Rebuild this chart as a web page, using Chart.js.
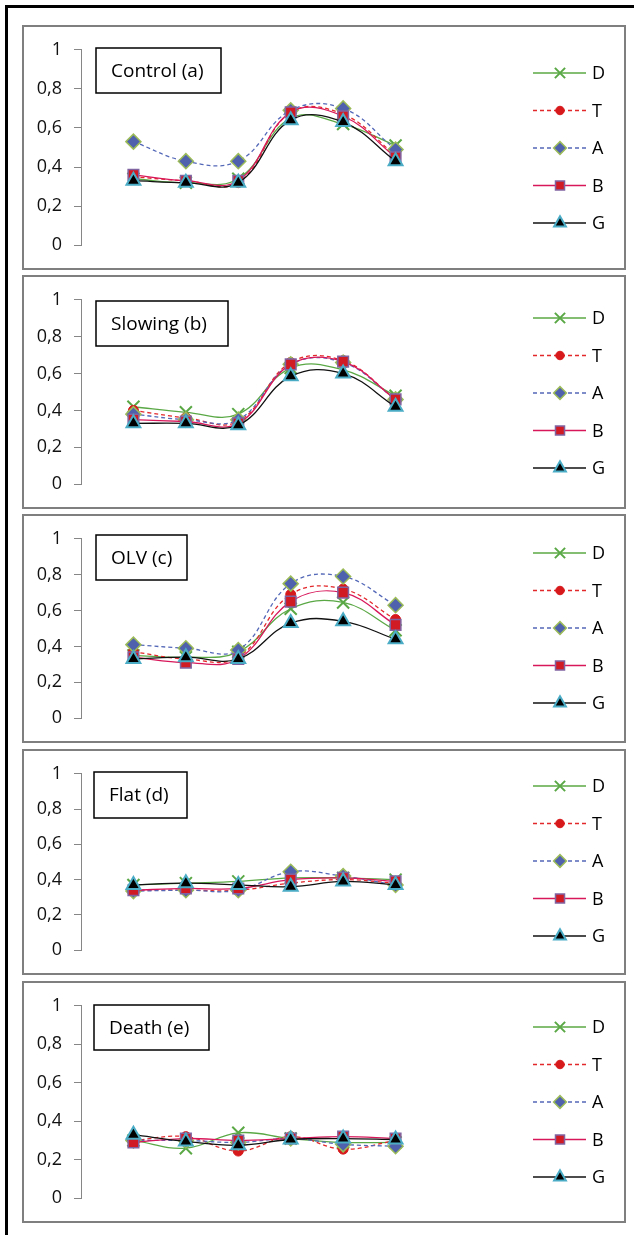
<!DOCTYPE html>
<html>
<head>
<meta charset="utf-8">
<script src="https://cdn.jsdelivr.net/npm/chart.js@4.4.1/dist/chart.umd.min.js"></script>
<style>
  html, body { margin: 0; padding: 0; background: #fff; }
  body { width: 634px; height: 1235px; position: relative; overflow: hidden; }
  .frame { position: absolute; left: 5px; top: 5px; width: 700px; height: 1300px;
           border-left: 3px solid #000; border-top: 3px solid #000; }
  .panel { position: absolute; left: 22px; width: 600px; border: 2px solid #7f7f7f; background: #fff; }
  .panel canvas { display: block; }
</style>
</head>
<body>
<div class="frame"></div>
<div id="panels"></div>
<script>
// datos
const categories = [1, 2, 3, 4, 5, 6];
const seriesNames = ['D', 'T', 'A', 'B', 'G'];
const yTickLabels = ['0', '0,2', '0,4', '0,6', '0,8', '1'];
const panelTitles = ['Control (a)', 'Slowing (b)', 'OLV (c)', 'Flat (d)', 'Death (e)'];

// orden de series: D, T, A, B, G
const controlValues = [
  [0.34, 0.32, 0.34, 0.65, 0.62, 0.51],
  [0.35, 0.33, 0.32, 0.68, 0.67, 0.46],
  [0.53, 0.43, 0.43, 0.69, 0.70, 0.49],
  [0.36, 0.33, 0.33, 0.68, 0.66, 0.45],
  [0.33, 0.32, 0.32, 0.64, 0.63, 0.43]
];
const slowingValues = [
  [0.42, 0.39, 0.38, 0.63, 0.62, 0.48],
  [0.40, 0.36, 0.34, 0.66, 0.67, 0.46],
  [0.38, 0.35, 0.35, 0.65, 0.66, 0.46],
  [0.35, 0.34, 0.33, 0.65, 0.665, 0.46],
  [0.33, 0.33, 0.32, 0.585, 0.60, 0.42]
];
const olvValues = [
  [0.35, 0.34, 0.37, 0.61, 0.645, 0.49],
  [0.37, 0.33, 0.34, 0.69, 0.72, 0.55],
  [0.41, 0.39, 0.38, 0.75, 0.79, 0.63],
  [0.34, 0.31, 0.33, 0.65, 0.70, 0.52],
  [0.33, 0.34, 0.33, 0.53, 0.54, 0.44]
];
const flatValues = [
  [0.37, 0.38, 0.39, 0.41, 0.41, 0.40],
  [0.34, 0.34, 0.34, 0.38, 0.40, 0.38],
  [0.335, 0.34, 0.34, 0.445, 0.42, 0.37],
  [0.34, 0.35, 0.35, 0.40, 0.41, 0.39],
  [0.37, 0.38, 0.37, 0.36, 0.39, 0.37]
];
const deathValues = [
  [0.30, 0.26, 0.34, 0.31, 0.29, 0.29],
  [0.30, 0.32, 0.245, 0.32, 0.255, 0.30],
  [0.30, 0.30, 0.29, 0.31, 0.28, 0.27],
  [0.29, 0.31, 0.30, 0.31, 0.32, 0.31],
  [0.33, 0.295, 0.275, 0.305, 0.31, 0.305]
];
const allValues = [controlValues, slowingValues, olvValues, flatValues, deathValues];

// estilos de cada serie (estilo Excel)
const seriesStyles = [
  { line: '#5aa845', dash: [], pointStyle: 'crossRot', radius: 8.5, fill: '#5aa845', stroke: '#5aa845', bw: 2 },
  { line: '#e3282b', dash: [4, 3], pointStyle: 'circle', radius: 5, fill: '#d7191c', stroke: '#d7191c', bw: 1 },
  { line: '#5468b8', dash: [4, 3], pointStyle: 'rectRot', radius: 7.5, fill: '#4f61ad', stroke: '#9bbb59', bw: 1.5 },
  { line: '#d8175a', dash: [], pointStyle: 'rect', radius: 7.5, fill: '#d01a24', stroke: '#8064a2', bw: 1.5 },
  { line: '#111111', dash: [], pointStyle: 'triangle', radius: 8, fill: '#000000', stroke: '#4bacc6', bw: 2 }
];

// posiciones de cada panel
const panelLayout = [
  { top: 25, height: 241, padTop: 21, padBottom: 20, legendY: 46, box: [72, 21, 125, 45] },
  { top: 275, height: 230, padTop: 22, padBottom: 20, legendY: 41, box: [72, 24, 132, 45] },
  { top: 514, height: 225, padTop: 22, padBottom: 19, legendY: 37, box: [72, 19, 91, 45] },
  { top: 749, height: 222, padTop: 21, padBottom: 21, legendY: 35, box: [70, 21, 93, 46] },
  { top: 981, height: 238, padTop: 21, padBottom: 19, legendY: 44, box: [70, 22, 115, 45] }
];

const FONT = '"Open Sans", "Liberation Sans", sans-serif';

// caja del titulo y leyenda dibujadas a mano
const excelDecor = {
  id: 'excelDecor',
  afterDraw(chart, args, opts) {
    const ctx = chart.ctx;
    ctx.save();
    // caja del titulo
    const [bx, by, bw, bh] = opts.box;
    ctx.fillStyle = '#fff';
    ctx.fillRect(bx, by, bw, bh);
    ctx.strokeStyle = '#000';
    ctx.lineWidth = 1.5;
    ctx.strokeRect(bx, by, bw, bh);
    ctx.fillStyle = '#000';
    ctx.font = '19px ' + FONT;
    ctx.textBaseline = 'middle';
    ctx.textAlign = 'left';
    ctx.fillText(opts.title, bx + 15, by + bh / 2 + 1);

    // leyenda
    chart.data.datasets.forEach((ds, i) => {
      const y = opts.legendY + i * 37.5;
      ctx.strokeStyle = ds.borderColor;
      ctx.lineWidth = 1.3;
      ctx.setLineDash(ds.borderDash || []);
      ctx.beginPath();
      ctx.moveTo(509, y);
      ctx.lineTo(562, y);
      ctx.stroke();
      ctx.setLineDash([]);
      ctx.fillStyle = ds.pointBackgroundColor;
      ctx.strokeStyle = ds.pointBorderColor;
      ctx.lineWidth = ds.pointBorderWidth;
      Chart.helpers.drawPoint(ctx, {
        pointStyle: ds.pointStyle,
        radius: ds.pointRadius * 0.85,
        rotation: 0,
        borderWidth: ds.pointBorderWidth
      }, 536, y);
      ctx.fillStyle = '#000';
      ctx.font = '18px ' + FONT;
      ctx.textAlign = 'left';
      ctx.textBaseline = 'middle';
      ctx.fillText(ds.label, 568, y + 1);
    });
    ctx.restore();
  }
};

const holder = document.getElementById('panels');

allValues.forEach((values, p) => {
  const lay = panelLayout[p];
  const div = document.createElement('div');
  div.className = 'panel';
  div.style.top = lay.top + 'px';
  div.style.height = lay.height + 'px';
  const canvas = document.createElement('canvas');
  canvas.width = 600;
  canvas.height = lay.height;
  div.appendChild(canvas);
  holder.appendChild(div);

  const datasets = values.map((vals, i) => {
    const st = seriesStyles[i];
    return {
      label: seriesNames[i],
      data: categories.map((c, k) => ({ x: c, y: vals[k] })),
      borderColor: st.line,
      borderWidth: 1.3,
      borderDash: st.dash,
      pointStyle: st.pointStyle,
      pointRadius: st.radius,
      pointBackgroundColor: st.fill,
      pointBorderColor: st.stroke,
      pointBorderWidth: st.bw,
      tension: 0.4,
      order: seriesNames.length - i,
      clip: false
    };
  });

  new Chart(canvas.getContext('2d'), {
    type: 'line',
    data: { datasets },
    plugins: [excelDecor],
    options: {
      responsive: false,
      animation: false,
      devicePixelRatio: 1,
      layout: { padding: { left: 0, right: 176, top: lay.padTop, bottom: lay.padBottom } },
      scales: {
        x: {
          type: 'linear',
          min: 0,
          max: categories.length + 1,
          display: false
        },
        y: {
          min: 0,
          max: 1,
          afterFit: (scale) => { scale.width = 57; },
          ticks: {
            stepSize: 0.2,
            padding: 12,
            color: '#111',
            font: { family: FONT, size: 18 },
            callback: (v) => yTickLabels[Math.round(v * 5)]
          },
          grid: {
            drawOnChartArea: false,
            drawTicks: true,
            tickLength: 7,
            color: '#868686'
          },
          border: { color: '#868686', width: 1 }
        }
      },
      plugins: {
        legend: { display: false },
        tooltip: { enabled: false },
        excelDecor: { title: panelTitles[p], box: lay.box, legendY: lay.legendY }
      }
    }
  });
});
</script>
</body>
</html>
